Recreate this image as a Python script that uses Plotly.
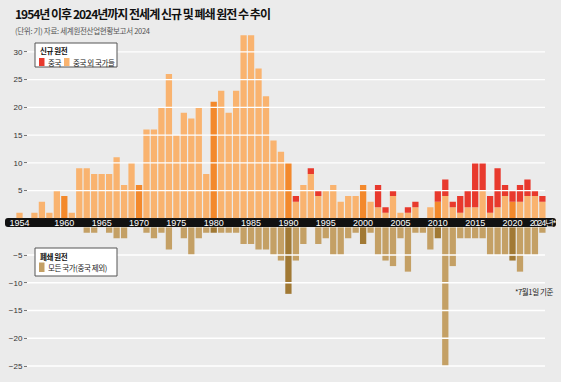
import plotly.graph_objects as go

# ---------------- data ----------------
years = list(range(1954, 2025))

# new reactors connected, countries other than China
new_other = [1, 0, 1, 3, 1, 5, 4, 1, 9, 9,      # 1954-1963
             8, 8, 8, 11, 6, 10, 6, 16, 16, 20,  # 1964-1973
             26, 15, 19, 18, 20, 8, 21, 23, 19, 23,  # 1974-1983
             33, 33, 27, 22, 14, 12, 10, 3, 6, 8,    # 1984-1993
             4, 5, 6, 3, 4, 4, 6, 3, 2, 1,           # 1994-2003
             4, 1, 1, 2, 0, 2, 3, 4, 2, 1,           # 2004-2013
             2, 2, 5, 1, 2, 4, 3, 3, 4, 4,           # 2014-2023
             3]                                      # 2024

# new reactors connected, China
new_china = [0, 0, 0, 0, 0, 0, 0, 0, 0, 0,
             0, 0, 0, 0, 0, 0, 0, 0, 0, 0,
             0, 0, 0, 0, 0, 0, 0, 0, 0, 0,
             0, 0, 0, 0, 0, 0, 0, 1, 0, 1,
             1, 0, 0, 0, 0, 0, 0, 0, 4, 1,
             1, 0, 1, 1, 0, 0, 2, 3, 1, 3,
             3, 8, 5, 3, 7, 2, 2, 3, 3, 1,
             1]

# closed reactors, all countries (excl. China)
closed = [0, 0, 0, 0, 0, 0, 0, 0, 0, -1,
          -1, 0, -1, -2, -2, 0, 0, -1, -2, -1,
          -4, 0, -2, -5, -2, -1, -1, -1, -1, -1,
          -3, -3, -4, -4, -5, -6, -12, -6, -3, 0,
          -3, -2, -5, -5, -2, -1, -3, -1, -5, -6,
          -7, -2, -8, -1, -1, -4, -2, -25, -7, -2,
          -2, -2, -2, -5, -5, -5, -6, -8, -5, -5,
          -1]

tick_years = [1954, 1960, 1965, 1970, 1975, 1980, 1985, 1990, 1995,
              2000, 2005, 2010, 2015, 2020, 2024]
tick_labels = ["1954", "1960", "1965", "1970", "1975", "1980", "1985", "1990",
               "1995", "2000", "2005", "2010", "2015", "2020", "2024년*"]
pos_ticks = [5, 10, 15, 20, 25, 30]
neg_ticks = [-25, -20, -15, -10, -5]

title = "1954년 이후 2024년까지 전세계 신규 및 폐쇄 원전 수 추이"
subtitle = "(단위: 기) 자료: 세계원전산업현황보고서 2024"
legend1_title = "신규 원전"
legend1_items = ["중국", "중국 외 국가들"]
legend2_title = "폐쇄 원전"
legend2_items = ["모든 국가(중국 제외)"]
note = "*7월1일 기준"

# ---------------- style ----------------
W, H = 561, 382
BG = "#ebebeb"
LIGHT_OR = "#f9b36f"
DARK_OR = "#f3892c"
RED = "#e8392d"
TAN = "#c4a065"
DARK_TAN = "#a17934"
KFONT = "Noto Sans CJK KR"
NFONT = "Liberation Sans Narrow, Liberation Sans, Arial"


def px(xp):
    return xp / W


def py(yp):
    return 1 - yp / H


def sp(text, ls):
    return f'<span style="letter-spacing:{ls}px">{text}</span>'


# pixel geometry
X_PER_YEAR = 7.47
X_1954 = 19.5
Y0_POS, Y0_NEG, PX_UNIT = 218.3, 227.25, 5.55
TOP_PX, BOT_PX = 30, 375

decade = [y % 10 == 0 for y in years]
fig = go.Figure()
fig.add_trace(go.Bar(x=years, y=new_other, name=legend1_items[1],
                     marker=dict(color=[DARK_OR if d else LIGHT_OR for d in decade], line=dict(width=0)),
                     width=0.84, xaxis="x", yaxis="y", showlegend=False))
fig.add_trace(go.Bar(x=years, y=new_china, name=legend1_items[0],
                     marker=dict(color=RED, line=dict(width=0)),
                     width=0.84, xaxis="x", yaxis="y", showlegend=False))
fig.add_trace(go.Bar(x=years, y=closed, name=legend2_items[0],
                     marker=dict(color=[DARK_TAN if d else TAN for d in decade], line=dict(width=0)),
                     width=0.84, xaxis="x2", yaxis="y2", showlegend=False))

xr = [1954 - X_1954 / X_PER_YEAR, 2024 + (W - (X_1954 + 70 * X_PER_YEAR)) / X_PER_YEAR]
band_ticktext = [t if t.isdigit() else sp(t, -1.2) for t in tick_labels]

fig.update_layout(
    width=W, height=H,
    margin=dict(l=0, r=0, t=0, b=0),
    paper_bgcolor=BG, plot_bgcolor=BG,
    barmode="relative",
    showlegend=False,
    xaxis=dict(domain=[0, 1], range=xr, anchor="y", showgrid=False, zeroline=False,
               showline=False, ticks="", tickmode="array", tickvals=tick_years,
               ticktext=band_ticktext, tickfont=dict(family=NFONT, size=9, color="white"),
               ticklabelstandoff=-2, fixedrange=True),
    xaxis2=dict(domain=[0, 1], range=xr, anchor="y2", matches="x", showgrid=False,
                zeroline=False, showline=False, showticklabels=False, ticks=""),
    yaxis=dict(domain=[py(Y0_POS), py(TOP_PX)], range=[0, (Y0_POS - TOP_PX) / PX_UNIT],
               anchor="free", position=px(27), showgrid=False, zeroline=False,
               showline=False, ticks="outside", ticklen=3, tickcolor="#777",
               tickmode="array", tickvals=pos_ticks, fixedrange=True,
               tickfont=dict(family=NFONT, size=8, color="#333")),
    yaxis2=dict(domain=[py(BOT_PX), py(Y0_NEG)], range=[-(BOT_PX - Y0_NEG) / PX_UNIT, 0],
                anchor="free", position=px(27), showgrid=False, zeroline=False,
                showline=False, ticks="outside", ticklen=3, tickcolor="#777",
                tickmode="array", tickvals=neg_ticks, fixedrange=True,
                tickfont=dict(family=NFONT, size=8, color="#333")),
)

shapes = []
# black year band
x0, x1 = px(5), px(556)
y0, y1 = py(227), py(218)
rx, ry = px(3), 3 / H
band_path = (f"M{x0+rx},{y0} L{x1-rx},{y0} Q{x1},{y0} {x1},{y0+ry} L{x1},{y1-ry} "
             f"Q{x1},{y1} {x1-rx},{y1} L{x0+rx},{y1} Q{x0},{y1} {x0},{y1-ry} "
             f"L{x0},{y0+ry} Q{x0},{y0} {x0+rx},{y0} Z")
shapes.append(dict(type="path", path=band_path, xref="paper", yref="paper",
                   fillcolor="#111111", line=dict(width=0), layer="below"))
# white gridlines drawn over the bars
for v in pos_ticks:
    shapes.append(dict(type="line", xref="paper", yref="y", x0=px(27), x1=px(545), y0=v, y1=v,
                       line=dict(color="white", width=1.3), layer="above"))
for v in neg_ticks:
    shapes.append(dict(type="line", xref="paper", yref="y2", x0=px(27), x1=px(545), y0=v, y1=v,
                       line=dict(color="white", width=1.3), layer="above"))
# legend boxes
for (bx0, by0, bx1, by1) in [(35, 43, 117, 67), (35, 248, 117, 276)]:
    shapes.append(dict(type="rect", xref="paper", yref="paper", x0=px(bx0), x1=px(bx1),
                       y0=py(by1), y1=py(by0), fillcolor="white",
                       line=dict(color="#555", width=1), layer="above"))
# legend swatches
for (sx0, sy0, sx1, sy1, c) in [(39, 58, 44.5, 66, RED), (64, 58, 69.5, 66, LIGHT_OR),
                                (39, 262.5, 44.5, 272, TAN)]:
    shapes.append(dict(type="rect", xref="paper", yref="paper", x0=px(sx0), x1=px(sx1),
                       y0=py(sy1), y1=py(sy0), fillcolor=c, line=dict(width=0), layer="above"))
fig.update_layout(shapes=shapes)

ann = []
ann.append(dict(text="<b>" + sp(title, -1.0) + "</b>", x=px(13), y=py(13.5), xref="paper", yref="paper",
                xanchor="left", yanchor="middle", showarrow=False,
                font=dict(family=KFONT, size=12, color="#111")))
ann.append(dict(text=sp(subtitle, -0.3), x=px(13), y=py(30), xref="paper", yref="paper",
                xanchor="left", yanchor="middle", showarrow=False,
                font=dict(family=KFONT, size=7.5, color="#555")))
# legend texts
ann.append(dict(text="<b>" + sp(legend1_title, -0.4) + "</b>", x=px(38), y=py(50.5), xref="paper", yref="paper",
                xanchor="left", yanchor="middle", showarrow=False,
                font=dict(family=KFONT, size=7.5, color="#111")))
ann.append(dict(text=sp(legend1_items[0], -0.4), x=px(46), y=py(62), xref="paper", yref="paper",
                xanchor="left", yanchor="middle", showarrow=False,
                font=dict(family=KFONT, size=7.5, color="#222")))
ann.append(dict(text=sp(legend1_items[1], -0.4), x=px(71), y=py(62), xref="paper", yref="paper",
                xanchor="left", yanchor="middle", showarrow=False,
                font=dict(family=KFONT, size=7.5, color="#222")))
ann.append(dict(text="<b>" + sp(legend2_title, -0.4) + "</b>", x=px(38), y=py(256), xref="paper", yref="paper",
                xanchor="left", yanchor="middle", showarrow=False,
                font=dict(family=KFONT, size=7.5, color="#111")))
ann.append(dict(text=sp(legend2_items[0], -0.4), x=px(46), y=py(267), xref="paper", yref="paper",
                xanchor="left", yanchor="middle", showarrow=False,
                font=dict(family=KFONT, size=7.5, color="#222")))
ann.append(dict(text=sp(note, -0.4), x=px(534), y=py(291), xref="paper", yref="paper",
                xanchor="center", yanchor="middle", showarrow=False,
                font=dict(family=KFONT, size=7.5, color="#222")))
fig.update_layout(annotations=ann)

fig.write_html("out.html",
               config={"displayModeBar": False, "staticPlot": True},
               post_script="document.body.style.margin='0';document.body.style.overflow='hidden';")
